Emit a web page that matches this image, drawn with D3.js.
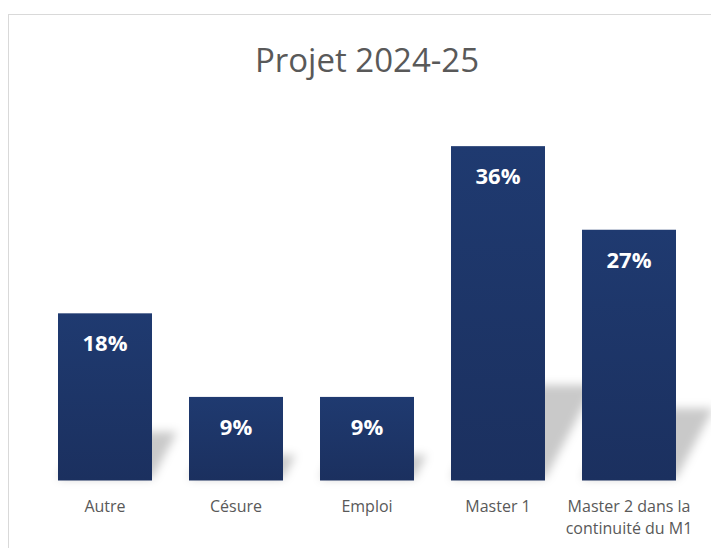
<!DOCTYPE html>
<html>
<head>
<meta charset="utf-8">
<script src="https://cdn.jsdelivr.net/npm/d3@7"></script>
<style>
  html, body { margin: 0; padding: 0; background: #fff; }
  svg { display: block; font-family: "Open Sans", sans-serif; }
</style>
</head>
<body>
<div id="chart"></div>
<script>
const title = "Projet 2024-25";
const categories = ["Autre", "Césure", "Emploi", "Master 1", "Master 2 dans la continuité du M1"];
const values = [18, 9, 9, 36, 27];
const valueLabels = ["18%", "9%", "9%", "36%", "27%"];

const W = 711, H = 548;
const svg = d3.select("#chart").append("svg").attr("width", W).attr("height", H);

const defs = svg.append("defs");
const grad = defs.append("linearGradient").attr("id", "barGrad")
  .attr("x1", 0).attr("y1", 0).attr("x2", 0).attr("y2", 1);
grad.append("stop").attr("offset", "0%").attr("stop-color", "#1f3a70");
grad.append("stop").attr("offset", "100%").attr("stop-color", "#1b305f");

defs.append("filter").attr("id", "blur")
  .attr("x", "-50%").attr("y", "-50%").attr("width", "200%").attr("height", "200%")
  .append("feGaussianBlur").attr("stdDeviation", 5);

// chart area border
svg.append("rect")
  .attr("x", 8.5).attr("y", 14.5)
  .attr("width", 760).attr("height", 600)
  .attr("fill", "none").attr("stroke", "#d9d9d9");

const x = d3.scaleBand()
  .domain(categories)
  .range([39.5, 694.5])
  .paddingInner(37 / 131)
  .paddingOuter(37 / 262);

const y = d3.scaleLinear().domain([0, 40]).range([480.5, 109]);

svg.append("text")
  .attr("x", (39.5 + 694.5) / 2)
  .attr("y", 72)
  .attr("text-anchor", "middle")
  .attr("font-size", 33)
  .attr("fill", "#595959")
  .text(title);

const data = categories.map((c, i) => ({ cat: c, v: values[i], label: valueLabels[i] }));

// perspective shadows
svg.append("g").selectAll("polygon")
  .data(data)
  .join("polygon")
  .attr("points", d => {
    const x0 = x(d.cat), x1 = x0 + x.bandwidth();
    const base = y(0) - 2, h = y(0) - y(d.v);
    const dx = 0.15 * h, dy = 0.28 * h;
    return [[x0, base], [x1, base], [x1 + dx, base - dy], [x0 + dx, base - dy]].join(" ");
  })
  .attr("fill", "#000")
  .attr("fill-opacity", 0.21)
  .attr("filter", "url(#blur)");

svg.append("g").selectAll("rect")
  .data(data)
  .join("rect")
  .attr("x", d => x(d.cat))
  .attr("y", d => y(d.v))
  .attr("width", x.bandwidth())
  .attr("height", d => y(0) - y(d.v))
  .attr("fill", "url(#barGrad)");

svg.append("g").selectAll("text")
  .data(data)
  .join("text")
  .attr("x", d => x(d.cat) + x.bandwidth() / 2)
  .attr("y", d => y(d.v) + 38)
  .attr("text-anchor", "middle")
  .attr("font-size", 22)
  .attr("font-weight", "bold")
  .attr("fill", "#fff")
  .text(d => d.label);

const axis = svg.append("g")
  .attr("transform", "translate(0," + y(0) + ")")
  .call(d3.axisBottom(x).tickSize(0).tickPadding(0));
axis.select(".domain").remove();
axis.selectAll("text")
  .attr("font-family", "Open Sans, sans-serif")
  .attr("font-size", 16)
  .attr("fill", "#595959")
  .call(wrap, 140);

function wrap(texts, width) {
  texts.each(function () {
    const text = d3.select(this);
    const words = text.text().split(/\s+/);
    text.text(null).attr("dy", null).attr("y", 31);
    let line = [];
    let tspan = text.append("tspan").attr("x", 0).attr("dy", 0);
    words.forEach(w => {
      line.push(w);
      tspan.text(line.join(" "));
      if (tspan.node().getComputedTextLength() > width && line.length > 1) {
        line.pop();
        tspan.text(line.join(" "));
        line = [w];
        tspan = text.append("tspan").attr("x", 0).attr("dy", 22).text(w);
      }
    });
  });
}
</script>
</body>
</html>
